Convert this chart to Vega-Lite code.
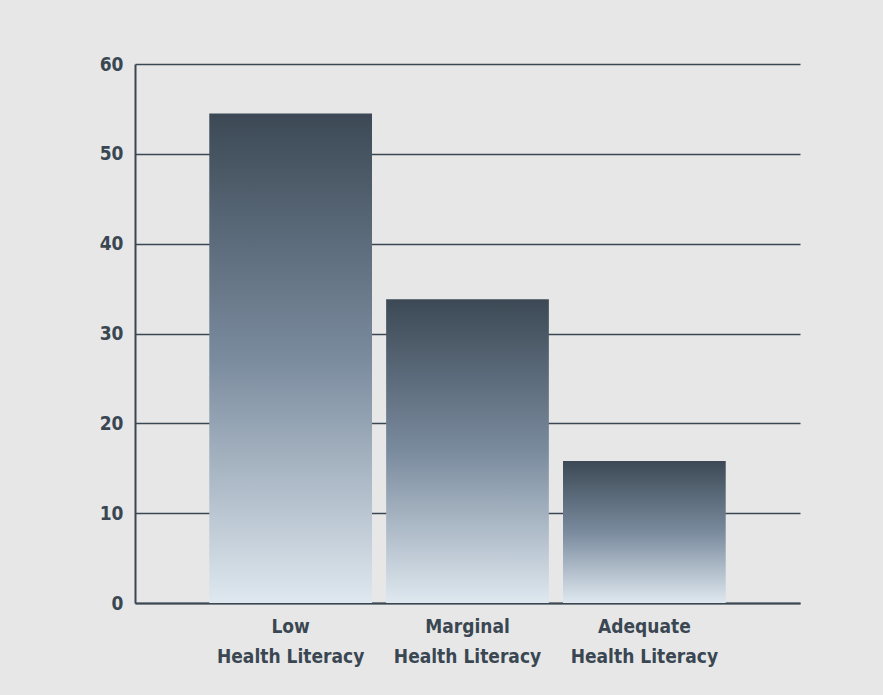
{
  "$schema": "https://vega.github.io/schema/vega-lite/v6.json",
  "width": 665,
  "height": 539,
  "autosize": {"type": "none"},
  "padding": {"left": 135, "top": 64, "right": 83, "bottom": 92},
  "background": "#e7e7e7",
  "data": {
    "values": [
      {"group": "Low|Health Literacy", "percent": 54.5},
      {"group": "Marginal|Health Literacy", "percent": 33.8},
      {"group": "Adequate|Health Literacy", "percent": 15.8}
    ]
  },
  "mark": {
    "type": "bar",
    "color": {
      "gradient": "linear",
      "x1": 0, "y1": 0, "x2": 0, "y2": 1,
      "stops": [
        {"offset": 0, "color": "#3c4955"},
        {"offset": 0.5, "color": "#7a8b9e"},
        {"offset": 1, "color": "#dfe8ef"}
      ]
    }
  },
  "encoding": {
    "x": {
      "field": "group",
      "type": "nominal",
      "sort": null,
      "scale": {"paddingInner": 0.08, "paddingOuter": 0.42},
      "axis": {
        "title": null,
        "labelAngle": 0,
        "ticks": false,
        "labelExpr": "split(datum.label, '|')",
        "labelLineHeight": 30,
        "labelPadding": 14,
        "labelFont": "DejaVu Sans Condensed",
        "labelFontWeight": "bold",
        "labelFontSize": 19,
        "labelColor": "#3a4753",
        "domainColor": "#3a4753",
        "domainWidth": 2
      }
    },
    "y": {
      "field": "percent",
      "type": "quantitative",
      "scale": {"domain": [0, 60]},
      "axis": {
        "title": null,
        "values": [0, 10, 20, 30, 40, 50, 60],
        "ticks": false,
        "labelPadding": 12,
        "labelFont": "DejaVu Sans Condensed",
        "labelFontWeight": "bold",
        "labelFontSize": 19,
        "labelColor": "#3a4753",
        "domainColor": "#3a4753",
        "domainWidth": 2,
        "grid": true,
        "gridColor": "#3a4753",
        "gridWidth": 1.5
      }
    }
  },
  "config": {
    "view": {"stroke": null}
  }
}
